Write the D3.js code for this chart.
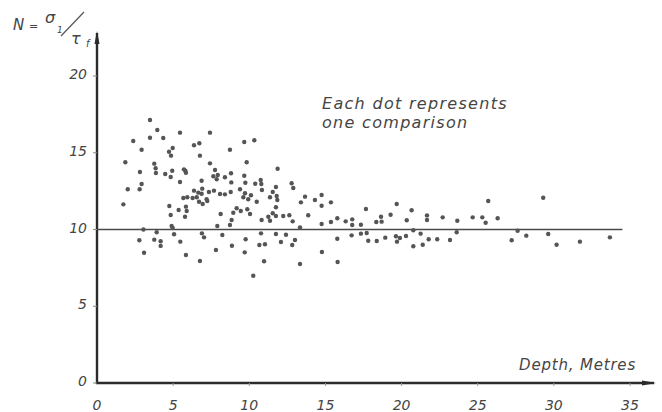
<!DOCTYPE html>
<html>
<head>
<meta charset="utf-8">
<script src="https://cdn.jsdelivr.net/npm/d3@7"></script>
<style>
  html, body { margin: 0; padding: 0; background: #fff; }
  svg text { font-family: "DejaVu Sans", sans-serif; font-style: oblique; fill: #454545; }
</style>
</head>
<body>
<svg id="chart" width="662" height="412"></svg>
<script>
// depth (m), N = sigma1 / tau_f
var comparisons = [
  [3.48,17.13],[3.96,16.48],[5.45,16.31],[3.48,15.98],[4.35,15.96],[2.38,15.77],[4.97,15.31],[2.93,15.20],
  [4.73,15.07],[4.86,14.81],[1.86,14.38],[3.76,14.29],[3.85,13.99],[5.71,13.92],[5.80,13.83],[5.84,13.70],
  [2.82,13.75],[3.87,13.68],[4.94,13.83],[4.48,13.62],[4.84,13.42],[5.45,13.09],[2.93,12.96],[2.02,12.62],
  [2.80,12.62],[5.93,12.10],[5.67,12.05],
  [1.73,11.64],[4.75,11.53],[5.36,11.27],[5.84,11.49],[5.89,11.21],[4.84,10.94],[5.78,10.83],[4.90,10.23],
  [4.97,10.10],[3.05,10.0],[3.92,9.82],[5.06,9.69],[2.78,9.30],[3.76,9.34],[4.18,9.23],[4.18,8.93],
  [5.47,9.21],[3.09,8.49],[5.84,8.34],
  [7.42,16.31],[6.37,15.49],[6.72,15.62],[9.67,15.70],[10.33,15.81],[8.73,15.20],[6.76,14.81],[9.83,14.38],
  [7.42,14.31],[11.86,13.96],[7.75,13.88],[8.80,13.66],[7.64,13.47],[7.93,13.55],[7.86,13.27],[8.40,13.40],
  [9.67,13.50],[6.87,13.18],[8.82,13.07],[9.74,13.05],[10.39,12.98],[10.75,13.22],[10.79,12.96],[11.75,12.77],
  [6.91,12.66],[9.39,12.62],[10.83,12.57],[6.37,12.53],[6.65,12.40],[6.87,12.33],[7.35,12.44],[7.68,12.53],
  [8.08,12.31],[8.40,12.29],[8.78,12.44],[9.72,12.36],[10.11,12.23],[11.54,12.44],[11.80,12.18],[6.28,12.05],
  [6.55,12.10],[7.20,11.97],[9.61,12.10],[9.93,11.97],[11.36,12.10],[11.84,11.92],
  [6.70,11.81],[6.94,11.66],[7.24,11.86],[9.17,11.38],[9.44,11.21],[9.87,11.32],[8.95,11.09],[10.05,11.01],
  [8.12,11.01],[10.49,11.81],[11.75,11.45],[11.25,10.83],[11.54,11.06],[11.75,10.88],[11.36,10.57],[10.81,10.62],
  [8.84,10.62],[8.73,10.29],[7.90,10.23],[6.89,9.75],[7.03,9.49],[8.23,9.64],[10.77,9.75],[11.75,9.71],
  [9.76,9.36],[7.81,8.66],[8.86,8.94],[9.70,8.51],[10.66,8.99],[11.03,9.04],[6.76,7.95],[10.97,7.93],
  [10.26,6.99],
  [12.78,13.01],[12.89,12.70],[13.66,12.14],[14.75,12.25],[13.39,11.77],[14.31,11.92],[14.75,11.55],[15.36,11.77],
  [12.23,10.88],[12.63,10.93],[13.87,10.93],[12.85,10.53],[14.75,10.36],[15.36,10.49],[15.78,10.73],[16.33,10.53],
  [16.76,10.66],[16.76,10.29],[17.33,10.31],[17.66,11.34],[18.34,10.49],[18.69,10.51],[18.65,10.83],[19.28,10.96],
  [19.68,11.66],[20.34,10.60],[20.66,11.25],[21.67,10.92],[21.67,10.62],[22.70,10.79],[13.33,10.14],[12.41,9.66],
  [12.08,9.19],[13.00,9.32],[12.82,8.99],[15.78,9.40],[16.72,9.62],[17.33,9.73],[17.71,9.77],[17.81,9.27],
  [18.37,9.25],[18.93,9.47],[19.63,9.56],[19.89,9.45],[19.70,9.21],[20.29,9.58],[20.77,9.95],[21.25,9.73],
  [20.77,8.91],[21.39,9.01],[21.78,9.36],[22.34,9.36],[23.18,9.32],[14.77,8.53],[13.33,7.75],[15.80,7.88],
  [23.66,10.57],[23.62,9.82],[24.67,10.79],[25.30,10.79],[25.52,10.44],[25.69,11.86],[26.31,10.73],[27.62,9.92],
  [27.23,9.30],[28.19,9.60],[29.30,12.07],[29.63,9.71],[30.18,9.01],[31.71,9.21],[33.68,9.49]
];
var xTicks = [0, 5, 10, 15, 20, 25, 30, 35];
var yTicks = [0, 5, 10, 15, 20];
var refLevel = 10;      // horizontal reference line N = 10
var refEnd = 34.5;      // where that line stops
var xLabel = "Depth, Metres";
var note = ["Each dot represents", "one comparison"];

var svg = d3.select("#chart");

var x = d3.scaleLinear().domain([0, 35]).range([97, 630]);
var y = d3.scaleLinear().domain([0, 20]).range([383, 76]);

// axes (drawn by hand to look like the ink drawing)
svg.append("line")
    .attr("x1", x(0)).attr("x2", x(0))
    .attr("y1", y(0) + 1).attr("y2", 33)
    .attr("stroke", "#2b2b2b").attr("stroke-width", 2.4);
svg.append("path")
    .attr("d", "M" + (x(0) - 2.5) + ",44 L" + x(0) + ",31 L" + (x(0) + 2.5) + ",44")
    .attr("fill", "#2b2b2b");

svg.append("line")
    .attr("x1", x(0) - 1).attr("x2", 654)
    .attr("y1", y(0)).attr("y2", y(0))
    .attr("stroke", "#2b2b2b").attr("stroke-width", 2.4);
svg.append("path")
    .attr("d", "M642," + (y(0) - 2.5) + " L656," + y(0) + " L642," + (y(0) + 2.5))
    .attr("fill", "#2b2b2b");

// y ticks + labels
var yg = svg.append("g");
yg.selectAll("line").data(yTicks).join("line")
    .attr("x1", x(0) - 4).attr("x2", x(0))
    .attr("y1", function (d) { return y(d); })
    .attr("y2", function (d) { return y(d); })
    .attr("stroke", "#888").attr("stroke-width", 1);
yg.selectAll("text").data(yTicks).join("text")
    .attr("x", x(0) - 10)
    .attr("y", function (d) { return y(d) + 3; })
    .attr("text-anchor", "end")
    .attr("font-size", 14)
    .text(function (d) { return d; });

// x ticks + labels
var xg = svg.append("g");
xg.selectAll("line").data(xTicks.slice(1)).join("line")
    .attr("x1", function (d) { return x(d); })
    .attr("x2", function (d) { return x(d); })
    .attr("y1", y(0)).attr("y2", y(0) + 3)
    .attr("stroke", "#999").attr("stroke-width", 1);
xg.selectAll("text").data(xTicks).join("text")
    .attr("x", function (d) { return x(d); })
    .attr("y", 410)
    .attr("text-anchor", "middle")
    .attr("font-size", 14)
    .text(function (d) { return d; });

// reference line at N = 10
svg.append("line")
    .attr("x1", x(0)).attr("x2", x(refEnd))
    .attr("y1", y(refLevel)).attr("y2", y(refLevel))
    .attr("stroke", "#4a4a4a").attr("stroke-width", 1.4);

// dots
svg.append("g").selectAll("circle").data(comparisons).join("circle")
    .attr("cx", function (d) { return x(d[0]); })
    .attr("cy", function (d) { return y(d[1]); })
    .attr("r", 2.2)
    .attr("fill", "#555");

// axis titles
svg.append("text")
    .attr("x", 636).attr("y", 370)
    .attr("text-anchor", "end")
    .attr("font-size", 15)
    .attr("letter-spacing", 0.8)
    .text(xLabel);

var ny = svg.append("g");
ny.append("text").attr("x", 13).attr("y", 30).attr("font-size", 15).text("N");
ny.append("text").attr("x", 29).attr("y", 30).attr("font-size", 11).text("=");
ny.append("text").attr("x", 45).attr("y", 23).attr("font-size", 16).text("σ");
ny.append("text").attr("x", 57).attr("y", 33).attr("font-size", 9).text("1");
ny.append("line")
    .attr("x1", 61).attr("y1", 36).attr("x2", 84).attr("y2", 12)
    .attr("stroke", "#555").attr("stroke-width", 1.2);
ny.append("text").attr("x", 71).attr("y", 44).attr("font-size", 16).text("τ");
ny.append("text").attr("x", 86).attr("y", 47).attr("font-size", 10).text("f");

// note
svg.append("text")
    .attr("x", 322).attr("y", 109)
    .attr("font-size", 16)
    .attr("letter-spacing", 1.3)
    .selectAll("tspan").data(note).join("tspan")
    .attr("x", 322)
    .attr("dy", function (d, i) { return i === 0 ? 0 : 19; })
    .text(function (d) { return d; });
</script>
</body>
</html>
